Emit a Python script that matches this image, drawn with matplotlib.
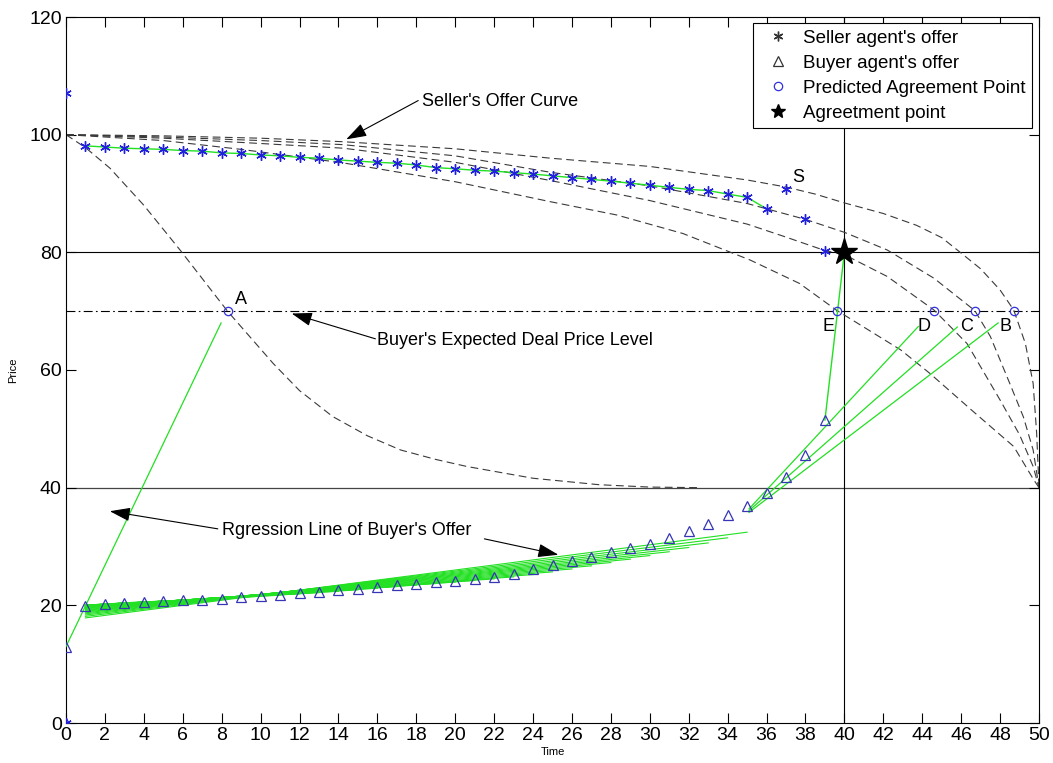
import numpy as np
import matplotlib
matplotlib.use('Agg')
import matplotlib.pyplot as plt
from matplotlib.lines import Line2D

plt.rcParams['font.family'] = ['Liberation Sans', 'DejaVu Sans']

# ---------------- data ----------------
time_seller = list(range(0, 40))
seller_offer = [107.0, 98.1, 97.9, 97.7, 97.6, 97.5, 97.3, 97.2, 96.9, 96.8,
                96.55, 96.4, 96.15, 96.0, 95.7, 95.5, 95.3, 95.15, 94.85, 94.4,
                94.2, 93.95, 93.8, 93.55, 93.3, 93.0, 92.7, 92.4, 92.1, 91.75,
                91.4, 91.05, 90.7, 90.5, 89.9, 89.35, 87.4, 90.7, 85.6, 80.3]

time_buyer = list(range(0, 40))
buyer_offer = [13.0, 19.9, 20.3, 20.4, 20.6, 20.7, 20.85, 20.95, 21.1, 21.4,
               21.6, 21.75, 22.1, 22.2, 22.55, 22.8, 23.2, 23.4, 23.7, 23.9,
               24.1, 24.4, 24.8, 25.4, 26.1, 26.9, 27.6, 28.3, 29.0, 29.7,
               30.45, 31.4, 32.6, 33.8, 35.3, 36.9, 39.1, 41.8, 45.6, 51.5]

# seller offer curves (dashed)
curveA_t = [0, 1, 2.26, 4, 5.86, 8.3, 10.65, 12, 13.7, 15.5, 17.2, 19, 20.6, 24.0, 27.4, 30, 32.6]
curveA_p = [100, 97.8, 94.3, 88.0, 80.4, 70.0, 61.1, 56.5, 52.1, 48.8, 46.4, 44.8, 43.6, 41.6, 40.5, 40.1, 40.0]
curveB_t = [0, 5, 10, 14.25, 20, 24.9, 30, 35, 37, 38.5, 40, 42, 43.7, 45, 45.8, 47, 48.0, 48.7, 49.3, 49.7, 49.88, 50]
curveB_p = [100, 99.8, 99.4, 98.8, 97.6, 96.0, 94.6, 92.3, 91.1, 89.9, 88.4, 86.6, 84.6, 82.5, 80.4, 77.2, 73.6, 70.2, 64.5, 57.7, 49.2, 40]
curveC_t = [0, 5, 10, 14.25, 20, 24.9, 30, 35, 36, 38, 40, 42.2, 44.6, 46.7, 47.5, 48.5, 49.2, 49.7, 50]
curveC_p = [100, 99.6, 99.0, 98.3, 96.4, 93.6, 91.3, 88.3, 87.4, 85.6, 83.4, 80.4, 75.6, 70.1, 65.7, 57.7, 52.0, 46.4, 40]
curveD_t = [0, 5, 10, 14.25, 20, 24.9, 30, 35, 36.9, 39, 40, 42.2, 44.6, 46.3, 48.0, 49.0, 49.7, 50]
curveD_p = [100, 99.4, 98.5, 97.7, 95.3, 92.2, 88.8, 84.8, 82.7, 80.3, 79.6, 75.9, 70.2, 64.5, 54.9, 49.0, 43.6, 40]
curveE_t = [0, 5, 9, 14.25, 20, 24.9, 28.3, 31.7, 35.15, 37.7, 39.6, 42.9, 44.4, 46.6, 48.7, 49.7, 50]
curveE_p = [100, 99.0, 97.5, 95.2, 92.0, 88.6, 86.35, 83.2, 78.7, 74.7, 70.15, 63.4, 59.4, 53.0, 47.0, 41.5, 40]

# predicted agreement points
pred_t = [8.3, 39.6, 44.6, 46.7, 48.7]
pred_p = [70, 70, 70, 70, 70]
pred_labels = ['A', 'E', 'D', 'C', 'B']
label_t = [9.0, 39.2, 44.1, 46.3, 48.3]
label_p = [71.9, 67.4, 67.4, 67.4, 67.4]

agree_t = [40]
agree_p = [80]

# buyer's steep early regression line
early_t = [0, 7.97]
early_p = [13.0, 68.0]
# late regression lines to D, C, B
late_start_t = [35.1, 35.1, 35.1]
late_start_p = [36.4, 36.1, 35.8]
late_end_t = [43.8, 45.8, 47.9]
late_end_p = [67.4, 67.3, 68.0]
# final buyer move to the agreement
final_t = [39, 40]
final_p = [51.5, 80]

fan_last = list(range(3, 36))   # regression windows t=1..k

# ---------------- drawing ----------------
fig = plt.figure(figsize=(10.53, 7.63), dpi=100)
ax = fig.add_axes([66 / 1053, 40 / 763, 973 / 1053, 706 / 763])

dash_kw = dict(color='#3a3a3a', lw=0.8, dashes=(7, 4))
for ct, cp in [(curveA_t, curveA_p), (curveB_t, curveB_p), (curveC_t, curveC_p),
               (curveD_t, curveD_p), (curveE_t, curveE_p)]:
    ax.plot(ct, cp, **dash_kw, zorder=2)

ax.axhline(80, color='k', lw=0.8, zorder=1)
ax.axhline(40, color='#444444', lw=0.9, zorder=1)
ax.axvline(40, color='k', lw=0.8, zorder=1)
ax.axhline(70, color='k', lw=0.8, dashes=(8, 3, 1.5, 3), zorder=1)

green = '#22e022'
# regression fan of buyer offers
bt = np.array(time_buyer, dtype=float)
bp = np.array(buyer_offer, dtype=float)
for k in fan_last:
    sel = (bt >= 1) & (bt <= k)
    a, b = np.polyfit(bt[sel], bp[sel], 1)
    ax.plot([1, k], [a * 1 + b, a * k + b], color=green, lw=0.8, zorder=3)
ax.plot(early_t, early_p, color=green, lw=0.9, zorder=3)
for st, sp, et, ep in zip(late_start_t, late_start_p, late_end_t, late_end_p):
    ax.plot([st, et], [sp, ep], color=green, lw=0.9, zorder=3)
ax.plot(final_t, final_p, color=green, lw=1.0, zorder=3)
ax.plot(time_seller[1:37], seller_offer[1:37], color=green, lw=1.0, zorder=3)

# markers
ast = (6, 2, 0)
ax.plot(time_seller, seller_offer, ls='none', marker=ast, ms=7.5, mew=1.0,
        color='#2020dd', zorder=5)
ax.plot(time_buyer, buyer_offer, ls='none', marker='^', ms=7, mfc='none',
        mec='#3535b5', mew=0.9, zorder=5)
ax.plot([0], [0], ls='none', marker='^', ms=7, mfc='none', mec='#3535b5', mew=0.9, zorder=5)
ax.plot([0], [0], ls='none', marker=ast, ms=7.5, color='#2020dd', zorder=5)
ax.plot(pred_t, pred_p, ls='none', marker='o', ms=6, mfc='none', mec='#3030dd',
        mew=0.9, zorder=5)
ax.plot(agree_t, agree_p, ls='none', marker='*', ms=20, color='k', zorder=6)

for lt, lp, lab in zip(label_t, label_p, pred_labels):
    ax.text(lt, lp, lab, fontsize=13, ha='center', va='center', zorder=7)
ax.text(37.65, 92.8, 'S', fontsize=13, ha='center', va='center', zorder=7)

# annotations
arrow_kw = dict(arrowstyle='-|>,head_length=0.9,head_width=0.3', color='k', lw=0.8,
                mutation_scale=14, shrinkA=0, shrinkB=0)
ax.text(18.3, 105.6, "Seller's Offer Curve", fontsize=13, ha='left', va='center')
ax.annotate('', xy=(14.4, 99.2), xytext=(18.1, 105.8), arrowprops=arrow_kw)
ax.text(16.0, 65.0, "Buyer's Expected Deal Price Level", fontsize=13, ha='left', va='center')
ax.annotate('', xy=(11.6, 69.6), xytext=(15.9, 65.3), arrowprops=arrow_kw)
ax.text(8.0, 32.7, "Rgression Line of Buyer's Offer", fontsize=13, ha='left', va='center')
ax.annotate('', xy=(25.3, 28.6), xytext=(21.5, 31.3), arrowprops=arrow_kw)
ax.annotate('', xy=(2.25, 36.0), xytext=(7.8, 33.0), arrowprops=arrow_kw)

ax.set_xlim(0, 50)
ax.set_ylim(0, 120)
ax.set_xticks(np.arange(0, 51, 2))
ax.set_yticks(np.arange(0, 121, 20))
ax.tick_params(direction='in', top=True, right=True, length=7, width=0.8,
               labelsize=14, pad=3)
for s in ax.spines.values():
    s.set_linewidth(0.8)
ax.set_xlabel('Time', fontsize=8, labelpad=2)
ax.set_ylabel('Price', fontsize=8, labelpad=8)

handles = [
    Line2D([], [], ls='none', marker=ast, ms=7, color='#333333'),
    Line2D([], [], ls='none', marker='^', ms=7, mfc='none', mec='#333333', mew=0.9),
    Line2D([], [], ls='none', marker='o', ms=6, mfc='none', mec='#3030dd', mew=0.9),
    Line2D([], [], ls='none', marker='*', ms=10, color='k'),
]
labels = ["Seller agent's offer", "Buyer agent's offer",
          "Predicted Agreement Point", "Agreetment point"]
leg = ax.legend(handles, labels, loc='upper right', bbox_to_anchor=(0.993, 0.9915),
                borderaxespad=0, fontsize=13.5, frameon=True, fancybox=False,
                edgecolor='k', framealpha=1, handlelength=2.0, handletextpad=0.35,
                labelspacing=0.42, borderpad=0.35)
leg.get_frame().set_linewidth(0.8)

fig.savefig('out.png', dpi=100)
